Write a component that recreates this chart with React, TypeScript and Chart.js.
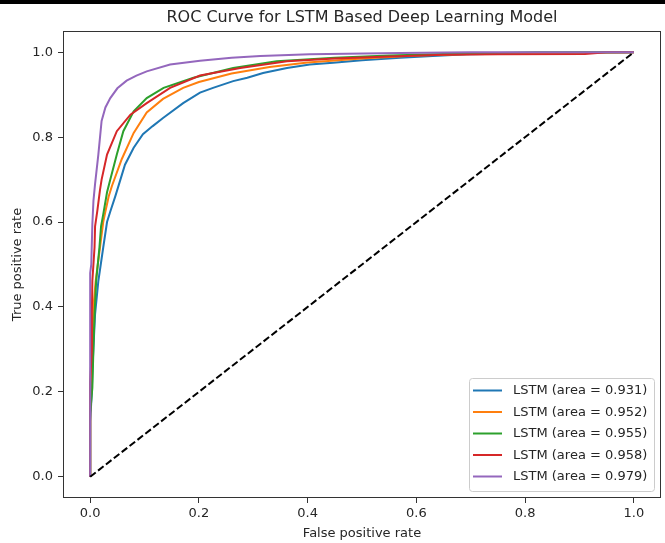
import React, { useEffect, useRef } from 'react';
import { Chart, registerables } from 'chart.js';

Chart.register(...registerables);

const TITLE = 'ROC Curve for LSTM Based Deep Learning Model';
const X_LABEL = 'False positive rate';
const Y_LABEL = 'True positive rate';
const TICKS = [0, 0.2, 0.4, 0.6, 0.8, 1.0];

const LABELS = [
  'LSTM (area = 0.931)',
  'LSTM (area = 0.952)',
  'LSTM (area = 0.955)',
  'LSTM (area = 0.958)',
  'LSTM (area = 0.979)',
];
const COLORS = ['#1f77b4', '#ff7f0e', '#2ca02c', '#d62728', '#9467bd'];

const fpr931 = [0, 0, 0.003, 0.004, 0.006, 0.009, 0.015, 0.024, 0.031, 0.037, 0.046, 0.058, 0.064, 0.08, 0.097, 0.115, 0.134, 0.171, 0.202, 0.226, 0.263, 0.289, 0.318, 0.362, 0.404, 0.447, 0.5, 0.57, 0.63, 0.693, 0.8, 0.9, 1.0];
const tpr931 = [0, 0.13, 0.2, 0.25, 0.304, 0.383, 0.461, 0.54, 0.6, 0.625, 0.66, 0.71, 0.735, 0.775, 0.807, 0.826, 0.845, 0.88, 0.905, 0.916, 0.932, 0.94, 0.951, 0.963, 0.971, 0.975, 0.981, 0.987, 0.991, 0.995, 0.997, 0.999, 1.0];

const fpr952 = [0, 0, 0.003, 0.006, 0.01, 0.018, 0.024, 0.028, 0.034, 0.04, 0.058, 0.08, 0.104, 0.134, 0.171, 0.2, 0.26, 0.33, 0.4, 0.5, 0.6, 0.7, 0.8, 0.9, 1.0];
const tpr952 = [0, 0.2, 0.3, 0.4, 0.46, 0.54, 0.6, 0.625, 0.66, 0.685, 0.748, 0.81, 0.858, 0.89, 0.916, 0.93, 0.95, 0.965, 0.976, 0.985, 0.992, 0.996, 0.998, 0.999, 1.0];

const fpr955 = [0, 0, 0.004, 0.006, 0.008, 0.011, 0.017, 0.02, 0.024, 0.031, 0.037, 0.049, 0.061, 0.08, 0.104, 0.135, 0.19, 0.263, 0.343, 0.45, 0.55, 0.65, 0.75, 0.82, 1.0];
const tpr955 = [0, 0.15, 0.21, 0.304, 0.383, 0.461, 0.54, 0.59, 0.618, 0.67, 0.7, 0.759, 0.814, 0.861, 0.892, 0.916, 0.94, 0.963, 0.979, 0.987, 0.992, 0.996, 0.998, 1.0, 1.0];

const fpr958 = [0, 0, 0.003, 0.003, 0.004, 0.008, 0.009, 0.013, 0.018, 0.021, 0.031, 0.049, 0.074, 0.104, 0.147, 0.202, 0.276, 0.362, 0.45, 0.55, 0.65, 0.75, 0.91, 0.95, 1.0];
const tpr958 = [0, 0.22, 0.3, 0.383, 0.461, 0.54, 0.59, 0.625, 0.675, 0.7, 0.759, 0.814, 0.853, 0.88, 0.916, 0.945, 0.963, 0.979, 0.985, 0.99, 0.994, 0.995, 0.996, 1.0, 1.0];

const fpr979 = [0, 0, 0.002, 0.004, 0.006, 0.009, 0.015, 0.021, 0.028, 0.037, 0.05, 0.067, 0.085, 0.104, 0.147, 0.202, 0.26, 0.313, 0.404, 0.57, 0.7, 1.0];
const tpr979 = [0, 0.48, 0.5, 0.595, 0.65, 0.69, 0.759, 0.838, 0.87, 0.892, 0.915, 0.933, 0.945, 0.955, 0.971, 0.98, 0.987, 0.991, 0.995, 0.998, 1.0, 1.0];

const chanceFpr = [0, 1];
const chanceTpr = [0, 1];

const FPRS = [fpr931, fpr952, fpr955, fpr958, fpr979];
const TPRS = [tpr931, tpr952, tpr955, tpr958, tpr979];

const FONT = 'DejaVu Sans';
const TEXT = '#262626';

const toPoints = (xs: number[], ys: number[]) => xs.map((x, i) => ({ x, y: ys[i] }));

const titlePlugin = {
  id: 'axesTitle',
  afterDraw(chart: any) {
    const { ctx, chartArea } = chart;
    ctx.save();
    ctx.font = `16px "${FONT}"`;
    ctx.fillStyle = TEXT;
    ctx.textAlign = 'center';
    ctx.textBaseline = 'middle';
    ctx.fillText(TITLE, (chartArea.left + chartArea.right) / 2, 17.5);
    ctx.restore();
  },
};

const framePlugin = {
  id: 'frame',
  afterDatasetsDraw(chart: any) {
    const { ctx, chartArea } = chart;
    ctx.save();
    ctx.strokeStyle = '#333333';
    ctx.lineWidth = 1;
    const l = Math.round(chartArea.left) + 0.5;
    const t = Math.round(chartArea.top) + 0.5;
    const r = Math.round(chartArea.right) - 0.5;
    const b = Math.round(chartArea.bottom) - 0.5;
    ctx.strokeRect(l, t, r - l, b - t);
    ctx.restore();
  },
};

const legendPlugin = {
  id: 'boxLegend',
  afterDraw(chart: any) {
    const { ctx, chartArea } = chart;
    const items = chart.data.datasets.filter((d: any) => d.inLegend);
    const boxW = 185;
    const rowH = 21.5;
    const boxH = 113;
    const x0 = chartArea.right - 7 - boxW;
    const y0 = chartArea.bottom - 7 - boxH;
    ctx.save();
    ctx.beginPath();
    ctx.roundRect(x0 + 0.5, y0 + 0.5, boxW, boxH, 3);
    ctx.fillStyle = 'rgba(255,255,255,0.8)';
    ctx.fill();
    ctx.strokeStyle = '#cccccc';
    ctx.lineWidth = 1;
    ctx.stroke();
    ctx.font = `13px "${FONT}"`;
    ctx.textAlign = 'left';
    ctx.textBaseline = 'middle';
    items.forEach((d: any, i: number) => {
      const y = y0 + 12.5 + i * rowH;
      ctx.beginPath();
      ctx.strokeStyle = d.borderColor;
      ctx.lineWidth = 2;
      ctx.moveTo(x0 + 4, y);
      ctx.lineTo(x0 + 33, y);
      ctx.stroke();
      ctx.fillStyle = TEXT;
      ctx.fillText(d.label, x0 + 44, y + 0.5);
    });
    ctx.restore();
  },
};

export default function App() {
  const ref = useRef<HTMLCanvasElement>(null);

  useEffect(() => {
    if (!ref.current) return;
    const datasets: any[] = LABELS.map((label, i) => ({
      label,
      data: toPoints(FPRS[i], TPRS[i]),
      borderColor: COLORS[i],
      backgroundColor: COLORS[i],
      borderWidth: 2,
      pointRadius: 0,
      fill: false,
      tension: 0,
      order: LABELS.length - i,
      inLegend: true,
    }));
    datasets.push({
      label: 'chance',
      data: toPoints(chanceFpr, chanceTpr),
      borderColor: '#000000',
      borderWidth: 2,
      borderDash: [7, 3],
      pointRadius: 0,
      fill: false,
      order: 0,
      inLegend: false,
    });

    const scaleTicks = (scale: any) => {
      scale.ticks = TICKS.map((v) => ({ value: v }));
    };

    const chart = new Chart(ref.current, {
      type: 'line',
      data: { datasets },
      options: {
        animation: false,
        responsive: false,
        maintainAspectRatio: false,
        layout: { padding: { top: 31, right: 4, left: 0, bottom: 0 } },
        plugins: {
          legend: { display: false },
          tooltip: { enabled: false },
          title: { display: false },
        },
        scales: {
          x: {
            type: 'linear',
            min: -0.05,
            max: 1.05,
            afterBuildTicks: scaleTicks,
            afterFit: (s: any) => {
              s.height = 45;
            },
            border: { display: false },
            grid: {
              drawOnChartArea: false,
              drawTicks: true,
              tickLength: 5,
              tickColor: '#333333',
              tickWidth: 1,
            },
            ticks: {
              padding: 3,
              color: TEXT,
              font: { family: FONT, size: 13 },
              maxRotation: 0,
              callback: (v: any) => Number(v).toFixed(1),
            },
            title: {
              display: true,
              text: X_LABEL,
              color: TEXT,
              font: { family: FONT, size: 13 },
              padding: { top: 0, bottom: 2 },
            },
          },
          y: {
            type: 'linear',
            min: -0.05,
            max: 1.05,
            afterBuildTicks: scaleTicks,
            afterFit: (s: any) => {
              s.width = 63;
            },
            border: { display: false },
            grid: {
              drawOnChartArea: false,
              drawTicks: true,
              tickLength: 5,
              tickColor: '#333333',
              tickWidth: 1,
            },
            ticks: {
              padding: 5,
              color: TEXT,
              font: { family: FONT, size: 13 },
              callback: (v: any) => Number(v).toFixed(1),
            },
            title: {
              display: true,
              text: Y_LABEL,
              color: TEXT,
              font: { family: FONT, size: 13 },
              padding: { top: 10, bottom: 0 },
            },
          },
        },
      } as any,
      plugins: [titlePlugin, framePlugin, legendPlugin],
    });
    return () => chart.destroy();
  }, []);

  return (
    <div style={{ position: 'fixed', left: 0, top: 0, width: 665, height: 543, background: '#ffffff' }}>
      <canvas ref={ref} width={665} height={543} style={{ display: 'block', width: 665, height: 543 }} />
      <div style={{ position: 'absolute', left: 0, top: 0, width: 665, height: 4, background: '#000000' }} />
    </div>
  );
}
